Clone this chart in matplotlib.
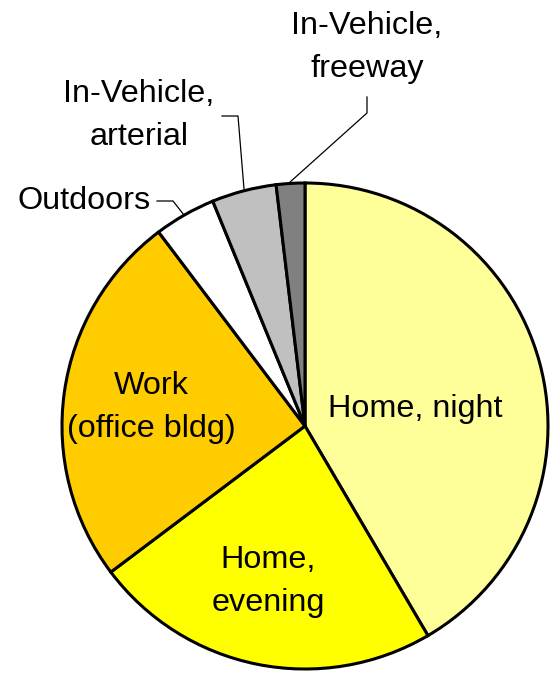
import matplotlib
matplotlib.use("Agg")
import matplotlib.pyplot as plt

categories = ["Home, night", "Home, evening", "Work (office bldg)", "Outdoors",
              "In-Vehicle, arterial", "In-Vehicle, freeway"]
values = [41.6, 23.2, 25.0, 4.1, 4.3, 1.9]
colors = ["#FFFF99", "#FFFF00", "#FFCC00", "#FFFFFF", "#C0C0C0", "#808080"]

W, H = 556, 675
CX, CY, R = 305, 426, 243

def px(x, y):
    return ((x - CX) / R, (CY - y) / R)

fig = plt.figure(figsize=(W / 100, H / 100), dpi=100)
ax = fig.add_axes([0, 0, 1, 1])

ax.pie(values, colors=colors, startangle=90, counterclock=False, radius=1,
       wedgeprops=dict(edgecolor="black", linewidth=2.2))

ax.set_xlim(px(0, 0)[0], px(W, 0)[0])
ax.set_ylim(px(0, H)[1], px(0, 0)[1])
ax.set_aspect("equal")
ax.axis("off")

font = dict(family=["Liberation Sans", "DejaVu Sans"], fontsize=23.3)

def label(txt, x, y):
    # (x, y): horizontal centre and last-line baseline, in pixels
    ax.text(*px(x, y), txt, ha="center", va="baseline", multialignment="center",
            linespacing=1.55, **font)

label("Home, night", 415.5, 417)
label("Home,\nevening", 268, 611)
label("Work\n(office bldg)", 151, 437)
label("Outdoors", 84.5, 209)
label("In-Vehicle,\narterial", 139, 145)
label("In-Vehicle,\nfreeway", 367, 77)

def leader(points):
    xs, ys = zip(*[px(x, y) for x, y in points])
    ax.plot(xs, ys, color="black", linewidth=0.9)

leader([(157, 201), (173, 201), (184, 215)])
leader([(222, 116), (238, 116), (244, 189)])
leader([(367, 97), (367, 113), (289, 183)])

fig.savefig("out.png", dpi=100)
